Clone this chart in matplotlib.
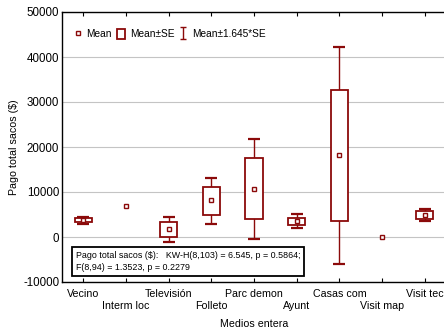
import matplotlib
matplotlib.use("Agg")
import matplotlib.pyplot as plt
import numpy as np
from matplotlib.patches import Patch
from matplotlib.lines import Line2D
from matplotlib.path import Path

plt.rcParams['font.family'] = ['Liberation Sans', 'DejaVu Sans']
plt.rcParams['axes.unicode_minus'] = False

# medias, cajas (media +/- SE) y bigotes (media +/- 1.645*SE) por categoria
medios = ['Vecino', 'Interm loc', 'Televisión', 'Folleto', 'Parc demon',
          'Ayunt', 'Casas com', 'Visit map', 'Visit tec']
media = [3730, 6870, 1720, 8130, 10740, 3580, 18150, 0, 4925]
se_bajo = [3280, 6870, 0, 4925, 3960, 2690, 3580, 0, 4100]
se_alto = [4180, 6870, 3280, 11040, 17450, 4330, 32740, 0, 5750]
ic_bajo = [2985, 6870, -1120, 2985, -450, 2015, -6040, 0, 3580]
ic_alto = [4550, 6870, 4480, 13130, 21850, 5075, 42220, 0, 6120]

rojo = '#8b0a0a'

fig = plt.figure(figsize=(4.44, 3.35), dpi=100)
ax = fig.add_axes([62/444, 1 - 282/335, 384/444, 270/335])

x = np.arange(1, len(medios) + 1)
media = np.array(media)
se_bajo = np.array(se_bajo); se_alto = np.array(se_alto)
ic_bajo = np.array(ic_bajo); ic_alto = np.array(ic_alto)

# solo las categorias con dispersion llevan caja y bigotes
con_caja = (se_alto - se_bajo) > 0
eb = ax.errorbar(x[con_caja], media[con_caja],
                 yerr=[media[con_caja] - ic_bajo[con_caja], ic_alto[con_caja] - media[con_caja]],
                 fmt='none', ecolor=rojo, elinewidth=1.0, capsize=4.2, capthick=1.6, zorder=2)
for cap in eb[1]:
    cap.set_color('#c07878')
ax.bar(x[con_caja], (se_alto - se_bajo)[con_caja], bottom=se_bajo[con_caja], width=0.4,
       facecolor='white', edgecolor=rojo, linewidth=1.3, zorder=3)
ax.plot(x, media, linestyle='none', marker='s', markersize=3.2, markerfacecolor='white',
        markeredgecolor=rojo, markeredgewidth=1.0, zorder=4)

ax.set_xlim(0.5, 9.5)
ax.set_ylim(-10000, 50000)
ax.set_yticks(np.arange(-10000, 50001, 10000))
ax.yaxis.grid(True, color='#c4c4c4', linewidth=0.8)
ax.set_axisbelow(True)
ax.spines['right'].set_visible(False)
for s in ['left', 'bottom', 'top']:
    ax.spines[s].set_linewidth(1.0)

ax.set_xticks(x)
ax.set_xticklabels(medios, fontsize=7.7)
ax.tick_params(axis='x', direction='in', length=3, top=True, pad=5)
ax.tick_params(axis='y', direction='in', length=0, labelsize=8.3, pad=2)
for i, t in enumerate(ax.xaxis.get_major_ticks()):
    if i % 2 == 1:
        t.set_pad(13.5)

ax.set_xlabel('Medios entera', fontsize=7.7, labelpad=6)
ax.set_ylabel('Pago total sacos ($)', fontsize=7.7, labelpad=3)

# simbolo de bigote para la leyenda
bigote = Path([(-0.5, 1), (0.5, 1), (0, 1), (0, -1), (-0.5, -1), (0.5, -1)],
              [Path.MOVETO, Path.LINETO, Path.MOVETO, Path.LINETO, Path.MOVETO, Path.LINETO])
handles = [
    Line2D([], [], linestyle='none', marker='s', markersize=3.2, markerfacecolor='white',
           markeredgecolor=rojo, markeredgewidth=1.0),
    Patch(facecolor='white', edgecolor=rojo, linewidth=1.3),
    Line2D([], [], linestyle='none', marker=bigote, markersize=9, markeredgecolor=rojo,
           markeredgewidth=1.0),
]
ax.legend(handles, ['Mean', 'Mean±SE', 'Mean±1.645*SE'], ncol=3, frameon=False,
          fontsize=7.3, loc='upper left', bbox_to_anchor=(0.015, 0.96),
          handlelength=0.8, handleheight=1.1, handletextpad=0.45, columnspacing=0.5,
          borderaxespad=0.2)

ax.text(0.036, 0.038,
        'Pago total sacos ($):   KW-H(8,103) = 6.545, p = 0.5864;\nF(8,94) = 1.3523, p = 0.2279',
        transform=ax.transAxes, fontsize=6.4, va='bottom', ha='left', linespacing=1.4,
        bbox=dict(boxstyle='square,pad=0.45', facecolor='white', edgecolor='black', linewidth=1.3),
        zorder=5)

fig.savefig('out.png', dpi=100)
